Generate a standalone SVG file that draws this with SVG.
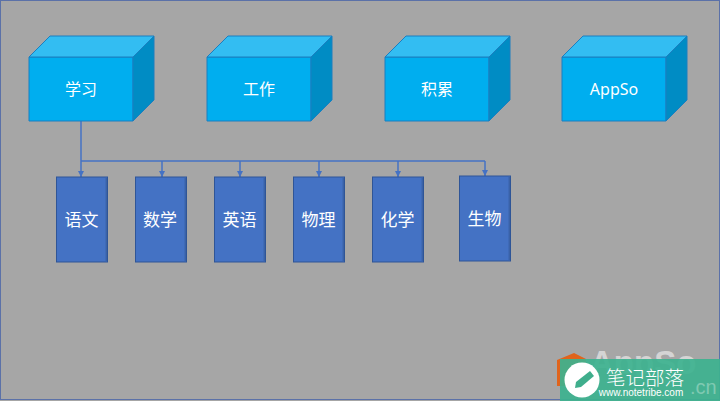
<svg xmlns="http://www.w3.org/2000/svg" width="720" height="401" viewBox="0 0 720 401">
<defs>
<marker id="arrow" markerUnits="userSpaceOnUse" markerWidth="7" markerHeight="6" refX="6" refY="3" orient="auto"><path d="M0 0L6 3L0 6Z" fill="#4472c4"/></marker>
<g id="cube">
<path class="front" d="M0 0H104V64H0Z"/>
<path class="top" d="M0 0L21 -21H125L104 0Z"/>
<path class="side" d="M104 0L125 -21V43L104 64Z"/>
</g>
<g id="book">
<rect class="bk" x="0" y="0" width="51" height="85"/>
<path d="M49.800 1V84" stroke="#3a62a8" stroke-width="1.500" fill="none"/>
</g>
</defs>
<style>
.front{fill:#00aeef;stroke:#1b7fc0;stroke-width:1}
.top{fill:#33bdf2;stroke:#1b7fc0;stroke-width:1}
.side{fill:#008cc4;stroke:#1b7fc0;stroke-width:1}
.bk{fill:#4472c4;stroke:#2f5597;stroke-width:1}
.cn{font-family:"Noto Sans CJK SC","Liberation Sans",sans-serif;fill:#fff;text-anchor:middle}
.c{font-size:16px}
.b{font-size:17px}
.link{fill:none;stroke:#4472c4;stroke-width:1.500}
</style>
<rect width="720" height="401" fill="#a6a6a6"/>
<rect x="0.500" y="0.500" width="719" height="399" fill="none" stroke="#5b71a8" stroke-width="1"/>
<g id="connectors">
<path class="link" d="M81 121V177" marker-end="url(#arrow)"/>
<path class="link" d="M81 161H485"/>
<path class="link" d="M162 161V177" marker-end="url(#arrow)"/>
<path class="link" d="M240 161V177" marker-end="url(#arrow)"/>
<path class="link" d="M319 161V177" marker-end="url(#arrow)"/>
<path class="link" d="M398 161V177" marker-end="url(#arrow)"/>
<path class="link" d="M485 161V176" marker-end="url(#arrow)"/>
</g>
<g id="n-xuexi"><use href="#cube" x="29" y="57"/><text class="cn c" x="81" y="95">学习</text></g>
<g id="n-gongzuo"><use href="#cube" x="207" y="57"/><text class="cn c" x="259" y="95">工作</text></g>
<g id="n-jilei"><use href="#cube" x="385" y="57"/><text class="cn c" x="437" y="95">积累</text></g>
<g id="n-appso"><use href="#cube" x="562" y="57"/><text class="cn c" x="614" y="95" style="font-family:'Noto Sans',sans-serif">AppSo</text></g>
<g id="n-yuwen"><use href="#book" x="56.500" y="177"/><text class="cn b" x="81.500" y="226">语文</text></g>
<g id="n-shuxue"><use href="#book" x="135.500" y="177"/><text class="cn b" x="160" y="226">数学</text></g>
<g id="n-yingyu"><use href="#book" x="214.500" y="177"/><text class="cn b" x="239.500" y="226">英语</text></g>
<g id="n-wuli"><use href="#book" x="293.500" y="177"/><text class="cn b" x="318.500" y="226">物理</text></g>
<g id="n-huaxue"><use href="#book" x="372.500" y="177"/><text class="cn b" x="397.500" y="226">化学</text></g>
<g id="n-shengwu"><use href="#book" x="459.500" y="176"/><text class="cn b" x="484.500" y="225">生物</text></g>
<g id="watermark">
<path d="M574 353L586 359V386H557V360Z" fill="#e0641c"/>
<text x="590" y="374" font-family="Liberation Sans,sans-serif" font-size="33" font-weight="bold" fill="#d4d4d4">AppSo</text>
<rect x="560" y="359" width="160" height="42" fill="#3db28f" fill-opacity="0.92"/>
<circle cx="582" cy="380" r="17.500" fill="#fff"/>
<path d="M590 371L594 376L581 387L575 388L576 382Z" fill="#3fae8c"/>
<text class="cn" x="645" y="385" font-size="19.500" style="font-weight:300">笔记部落</text>
<text x="690" y="394" font-family="Liberation Sans,sans-serif" font-size="20" fill="#7fc9b2">.cn</text>
<text x="641" y="396" font-family="Liberation Sans,sans-serif" font-size="10" fill="#fff" text-anchor="middle">www.notetribe.com</text>
</g>
</svg>
